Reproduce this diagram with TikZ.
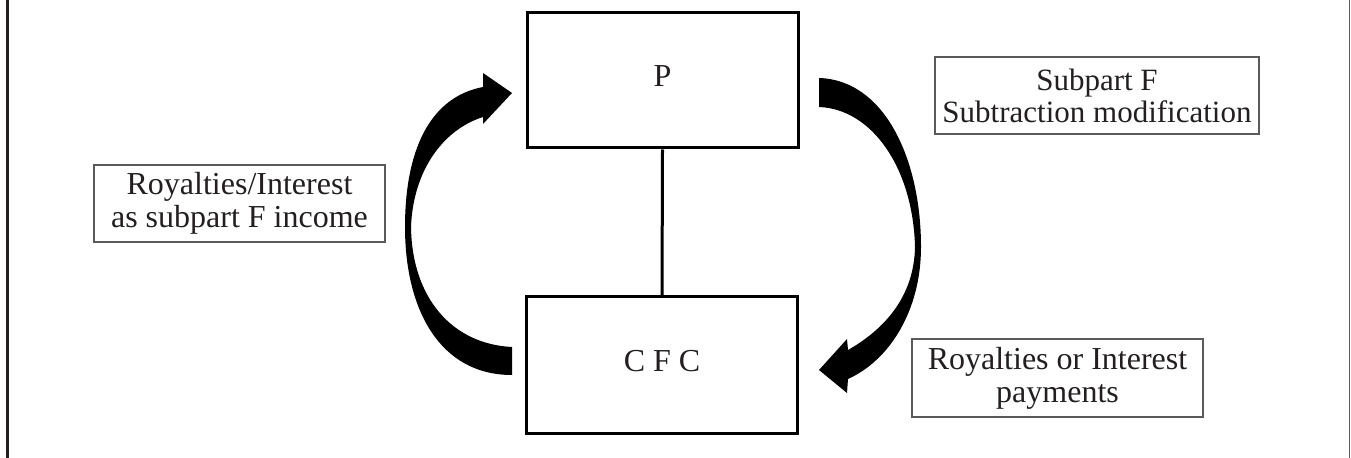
\documentclass[tikz,border=0pt]{standalone}
\usepackage{fontspec}
\setmainfont{Liberation Serif}
\definecolor{ink}{HTML}{231F20}
\definecolor{framegray}{HTML}{5A5A5A}
\begin{document}
\begin{tikzpicture}[x=1bp,y=-1bp,
  mainbox/.style={draw=black, line width=3bp, minimum width=271bp, minimum height=135bp,
    inner sep=0pt, text=ink, font=\fontsize{32bp}{33bp}\selectfont, text height=12bp, text depth=0pt},
  notebox/.style={draw=framegray, line width=1.5bp, inner sep=0pt, align=center,
    text=ink, font=\fontsize{32bp}{33bp}\selectfont},
  bigarrow/.style={fill=black, draw=none}]
\useasboundingbox (0,0) rectangle (1351,458);
% side rules
\draw[ink, line width=2.5bp] (7.5,0) -- (7.5,458);
\draw[framegray, line width=1.5bp] (1349.5,0) -- (1349.5,458);
% main boxes
\node[mainbox] (P) at (662.5,80.5) {P};
\node[mainbox, minimum height=136bp] (CFC) at (662,365) {C F C};
\draw[black, line width=3bp] (P.south) -- (CFC.north);
% note boxes
\node[notebox, minimum width=291bp, minimum height=77bp] (left) at (239.5,203.5) {Royalties/Interest\\as subpart F income};
\node[notebox, minimum width=324bp, minimum height=77bp, font=\fontsize{31bp}{32bp}\selectfont] (sub) at (1097,95.5) {Subpart F\\Subtraction modification};
\node[notebox, minimum width=291bp, minimum height=78bp] (pay) at (1057.5,378) {Royalties or Interest\\payments};
% left curved arrow (CFC -> P)
\fill[bigarrow] (512,375) -- (512,347)
  .. controls (452,344) and (412,298) .. (411,227)
  .. controls (413,172) and (442,130) .. (483,117)
  -- (483,124) -- (512,93) -- (483,73) -- (483,87)
  .. controls (430,97) and (405,150) .. (405,227)
  .. controls (405,310) and (440,375) .. (512,375) -- cycle;
% right curved arrow (P -> CFC)
\fill[bigarrow] (819,78)
  .. controls (885,80) and (921,160) .. (921,247)
  .. controls (921,310) and (890,360) .. (848,379)
  -- (847,393) -- (819,370) -- (847,339) -- (848,350)
  .. controls (883,330) and (914,298) .. (915,247)
  .. controls (913,168) and (872,109) .. (819,107) -- cycle;
\end{tikzpicture}
\end{document}
